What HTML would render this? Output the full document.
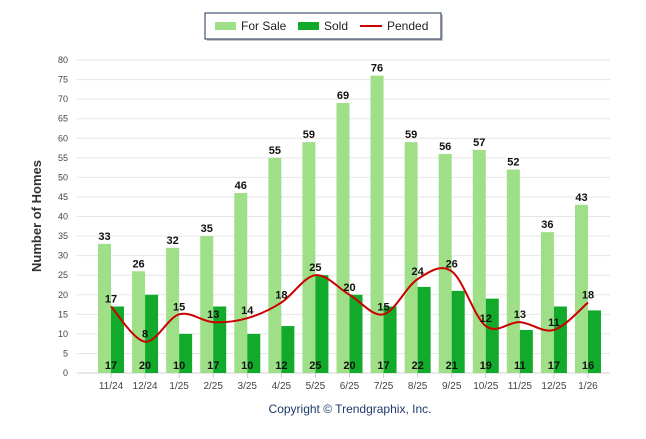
<!DOCTYPE html>
<html><head><meta charset="utf-8"><style>
body{margin:0;background:#fff;font-family:"Liberation Sans",sans-serif}
</style></head><body>
<svg id="c" width="646" height="434" xmlns="http://www.w3.org/2000/svg" font-family="Liberation Sans, sans-serif">
<g>
<rect x="207" y="15" width="236" height="26" fill="#555" opacity="0.35"/>
<rect x="205" y="13" width="236" height="26" fill="#fff" stroke="#1f3050" stroke-width="1"/>
<rect x="215" y="22" width="21" height="8" fill="#9fdf88"/>
<text x="241" y="30" font-size="12" fill="#222">For Sale</text>
<rect x="298" y="22" width="21" height="8" fill="#11aa2a"/>
<text x="324" y="30" font-size="12" fill="#222">Sold</text>
<line x1="360" y1="26" x2="382" y2="26" stroke="#cc0000" stroke-width="2"/>
<text x="387" y="30" font-size="12" fill="#222">Pended</text>
</g>
<text transform="translate(41,216) rotate(-90)" text-anchor="middle" font-size="13" font-weight="bold" fill="#333">Number of Homes</text>
<text x="350" y="413" text-anchor="middle" font-size="12" fill="#1f3a6a">Copyright © Trendgraphix, Inc.</text>
<g id="grid"></g><g id="bars"></g><g id="line"></g><g id="labels"></g>
</svg>
<script>
const categories=["11/24","12/24","1/25","2/25","3/25","4/25","5/25","6/25","7/25","8/25","9/25","10/25","11/25","12/25","1/26"];
const forSale=[33,26,32,35,46,55,59,69,76,59,56,57,52,36,43];
const sold=[17,20,10,17,10,12,25,20,17,22,21,19,11,17,16];
const pended=[17,8,15,13,14,18,25,20,15,24,26,12,13,11,18];
const yTicks=[0,5,10,15,20,25,30,35,40,45,50,55,60,65,70,75,80];
const NS="http://www.w3.org/2000/svg";
const y=v=>373-v*(313/80);
const x=i=>111+i*34.07;
function mk(t,a,p){const e=document.createElementNS(NS,t);for(const k in a)e.setAttribute(k,a[k]);document.getElementById(p).appendChild(e);return e;}
yTicks.forEach(v=>{
  const g=mk('line',{x1:77,x2:610,y1:y(v),y2:y(v),stroke:v?'#e6e6e6':'#d0d0d0','stroke-width':1},'grid');
  
  
  const t=mk('text',{x:68,y:y(v)+3,'text-anchor':'end','font-size':9,fill:'#444'},'grid');
  t.textContent=v;
  
  
});
categories.forEach((c,i)=>{
  const tk=mk('line',{x1:x(i),x2:x(i),y1:373,y2:378,stroke:'#ccc'},'grid');
  
  
  const t=mk('text',{x:x(i),y:389,'text-anchor':'middle','font-size':10,fill:'#444'},'grid');
  t.textContent=c;
  
  
  const b1=mk('rect',{x:x(i)-13,y:y(forSale[i]),width:13,height:373-y(forSale[i]),fill:'#9fdf88'},'bars');
  
  
  const b2=mk('rect',{x:x(i),y:y(sold[i]),width:13,height:373-y(sold[i]),fill:'#11aa2a'},'bars');
  
  
  const l1=mk('text',{x:x(i)-6.5,y:y(forSale[i])-4,'text-anchor':'middle','font-size':11,'font-weight':'bold',fill:'#111'},'labels');
  l1.textContent=forSale[i];
  
  
  const l2=mk('text',{x:x(i),y:369,'text-anchor':'middle','font-size':11,'font-weight':'bold',fill:'#111'},'labels');
  l2.textContent=sold[i];
  
  
  const l3=mk('text',{x:x(i),y:y(pended[i])-4,'text-anchor':'middle','font-size':11,'font-weight':'bold',fill:'#111'},'labels');
  l3.textContent=pended[i];
  
  
});
const P=pended.map((v,i)=>[x(i),y(v)]);
let d='M'+P[0][0]+','+P[0][1];
for(let i=0;i<P.length-1;i++){
  const p0=P[Math.max(0,i-1)],p1=P[i],p2=P[i+1],p3=P[Math.min(P.length-1,i+2)];
  const c1=[p1[0]+(p2[0]-p0[0])/6,p1[1]+(p2[1]-p0[1])/6],c2=[p2[0]-(p3[0]-p1[0])/6,p2[1]-(p3[1]-p1[1])/6];
  d+=` C${c1} ${c2} ${p2}`;
}
const ln=mk('path',{d:d,fill:'none',stroke:'#cc0000','stroke-width':2},'line');


</script>
</body></html>
